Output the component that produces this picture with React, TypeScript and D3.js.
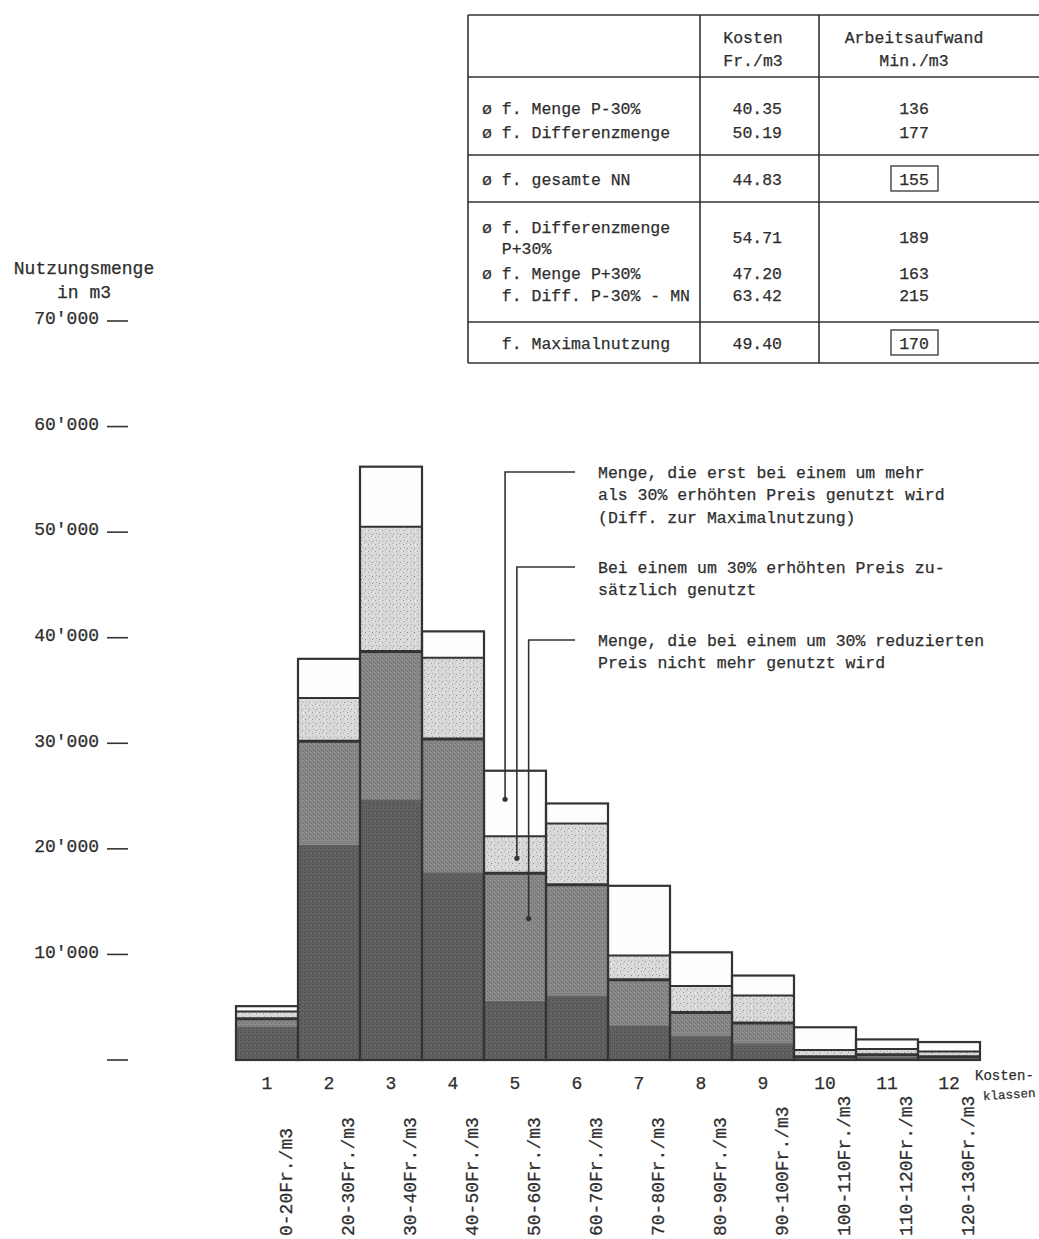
import React from 'react';
import * as d3 from 'd3';

// Kostenklassen und Preisbereiche
const classes = ['1', '2', '3', '4', '5', '6', '7', '8', '9', '10', '11', '12'];
const priceRanges = [
  '0-20Fr./m3', '20-30Fr./m3', '30-40Fr./m3', '40-50Fr./m3', '50-60Fr./m3', '60-70Fr./m3',
  '70-80Fr./m3', '80-90Fr./m3', '90-100Fr./m3', '100-110Fr./m3', '110-120Fr./m3', '120-130Fr./m3'
];

// Nutzungsmengen je Schicht (m3)
const mengeP30Minus = [3100, 20300, 24600, 17700, 5500, 6000, 3200, 2200, 1500, 100, 200, 100];
const diffP30Minus = [800, 9900, 14100, 12700, 12200, 10600, 4400, 2300, 2000, 200, 300, 200];
const diffP30Plus = [700, 4100, 11800, 7700, 3500, 5800, 2300, 2500, 2600, 650, 550, 500];
const diffMaximal = [500, 3700, 5700, 2500, 6200, 1900, 6600, 3200, 1900, 2150, 900, 900];

const yTicks = [0, 10000, 20000, 30000, 40000, 50000, 60000, 70000];

// Tabelle
const tableHeader = [['Kosten', 'Fr./m3'], ['Arbeitsaufwand', 'Min./m3']];
const tableRows = [
  { label: ['ø f. Menge P-30%'], kosten: '40.35', aufwand: '136', y: 108 },
  { label: ['ø f. Differenzmenge'], kosten: '50.19', aufwand: '177', y: 132 },
  { label: ['ø f. gesamte NN'], kosten: '44.83', aufwand: '155', y: 179, boxed: true },
  { label: ['ø f. Differenzmenge', '  P+30%'], kosten: '54.71', aufwand: '189', y: 237 },
  { label: ['ø f. Menge P+30%'], kosten: '47.20', aufwand: '163', y: 273 },
  { label: ['  f. Diff. P-30% - MN'], kosten: '63.42', aufwand: '215', y: 295 },
  { label: ['  f. Maximalnutzung'], kosten: '49.40', aufwand: '170', y: 343, boxed: true }
];
const tableLines = [15, 77, 155, 202, 322, 363];

// Legende: Schicht von Klasse 5, Wert des Punktes
const legend = [
  { lines: ['Menge, die erst bei einem um mehr', 'als 30% erhöhten Preis genutzt wird', '(Diff. zur Maximalnutzung)'], layer: 3, value: 24700, off: 0.34, y: 472 },
  { lines: ['Bei einem um 30% erhöhten Preis zu-', 'sätzlich genutzt'], layer: 2, value: 19100, off: 0.53, y: 567 },
  { lines: ['Menge, die bei einem um 30% reduzierten', 'Preis nicht mehr genutzt wird'], layer: 1, value: 13400, off: 0.72, y: 640 }
];

const W = 1039;
const H = 1239;
const FONT = '"Liberation Mono", "DejaVu Sans Mono", monospace';
const INK = '#2e2e2e';

export default function App() {
  const x = d3.scaleBand<string>().domain(classes).range([236, 980]).padding(0);
  const y = d3.scaleLinear().domain([0, 70000]).range([1060, 321]);

  const rows = classes.map((c, i) => ({
    c,
    a: mengeP30Minus[i],
    b: diffP30Minus[i],
    s: diffP30Plus[i],
    w: diffMaximal[i]
  }));
  const stack = d3.stack<any>().keys(['a', 'b', 's', 'w'])(rows);
  const fills = ['url(#pDark)', 'url(#pMed)', 'url(#pLight)', '#fdfdfd'];
  const bw = x.bandwidth();
  const fmt = (v: number) => d3.format(',')(v).replace(/,/g, "'");

  return (
    <svg width={W} height={H} style={{ position: 'absolute', left: 0, top: 0, background: '#fff' }}
      fontFamily={FONT} fill={INK}>
      <defs>
        <pattern id="pDark" width="4" height="4" patternUnits="userSpaceOnUse">
          <rect width="4" height="4" fill="#606060" />
          <rect x="0" y="0" width="1" height="1" fill="#484848" />
          <rect x="2" y="2" width="1" height="1" fill="#484848" />
          <rect x="3" y="1" width="1" height="1" fill="#747474" />
        </pattern>
        <pattern id="pMed" width="4" height="4" patternUnits="userSpaceOnUse">
          <rect width="4" height="4" fill="#878787" />
          <rect x="1" y="1" width="1" height="1" fill="#6c6c6c" />
          <rect x="3" y="3" width="1" height="1" fill="#6c6c6c" />
          <rect x="2" y="0" width="1" height="1" fill="#9c9c9c" />
        </pattern>
        <pattern id="pLight" width="7" height="7" patternUnits="userSpaceOnUse">
          <rect width="7" height="7" fill="#d9d9d9" />
          <rect x="1" y="2" width="1" height="1" fill="#8a8a8a" />
          <rect x="4" y="5" width="1" height="1" fill="#9c9c9c" />
          <rect x="5" y="1" width="1" height="1" fill="#acacac" />
          <rect x="2" y="5" width="1" height="1" fill="#f4f4f4" />
          <rect x="0" y="4" width="1" height="1" fill="#b4b4b4" />
        </pattern>
      </defs>

      <g stroke={INK} strokeWidth={0.25}>
        {/* Tabelle */}
        <g fontSize={16.5}>
          {tableHeader.map((h, i) => (
            <g key={i}>
              {h.map((t, j) => (
                <text key={j} x={i === 0 ? 753 : 914} y={37 + j * 23} dy="0.35em" textAnchor="middle">{t}</text>
              ))}
            </g>
          ))}
          {tableRows.map((r, i) => (
            <g key={i}>
              {r.label.map((t, j) => (
                <text key={j} x={482} y={r.label.length > 1 ? r.y - 10 + j * 21 : r.y} dy="0.35em"
                  style={{ whiteSpace: 'pre' }}>{t}</text>
              ))}
              <text x={782} y={r.y} dy="0.35em" textAnchor="end">{r.kosten}</text>
              <text x={914} y={r.y} dy="0.35em" textAnchor="middle">{r.aufwand}</text>
            </g>
          ))}
        </g>

        {/* Y-Achse Texte */}
        <g fontSize={18}>
          <text x={84} y={268} dy="0.35em" textAnchor="middle">Nutzungsmenge</text>
          <text x={84} y={292} dy="0.35em" textAnchor="middle">in m3</text>
          {yTicks.filter(t => t > 0).map(t => (
            <text key={t} x={99} y={y(t) - 3} dy="0.35em" textAnchor="end">{fmt(t)}</text>
          ))}
        </g>

        {/* Legende Texte */}
        <g fontSize={16.5}>
          {legend.map((l, i) => (
            <g key={i}>
              {l.lines.map((t, j) => (
                <text key={j} x={598} y={l.y + j * 22.5} dy="0.35em">{t}</text>
              ))}
            </g>
          ))}
        </g>

        {/* X-Achse Texte */}
        <g fontSize={18}>
          {classes.map(c => (
            <text key={c} x={x(c)! + bw / 2} y={1083} dy="0.35em" textAnchor="middle">{c}</text>
          ))}
          <text x={975} y={1075} dy="0.35em" fontSize={14}>Kosten-</text>
          <text x={983} y={1096} dy="0.35em" fontSize={12.5}
            transform="rotate(-4 983 1096)">klassen</text>
          {priceRanges.map((p, i) => {
            const px = x(classes[i])! + bw / 2 + 19;
            return (
              <text key={p} x={px} y={1236} fontSize={18} dy="0.35em"
                transform={`rotate(-90 ${px} 1236)`}>{p}</text>
            );
          })}
        </g>
      </g>

      {/* Tabellenlinien */}
      <g>
        {tableLines.map(ly => (
          <line key={ly} x1={468} x2={W} y1={ly} y2={ly} stroke="#333" strokeWidth={1.6} />
        ))}
        {[468, 700, 819].map(lx => (
          <line key={lx} x1={lx} x2={lx} y1={15} y2={363} stroke="#333" strokeWidth={1.6} />
        ))}
        {tableRows.filter(r => r.boxed).map((r, i) => (
          <rect key={i} x={891} y={r.y - 13} width={47} height={25} fill="none" stroke="#333" strokeWidth={1.3} />
        ))}
      </g>

      {/* Y-Achse Striche */}
      {yTicks.map(t => (
        <line key={t} x1={107} x2={128} y1={y(t)} y2={y(t)} stroke="#333" strokeWidth={1.6} />
      ))}

      {/* Balken */}
      <g>
        {stack.map((layer, li) => (
          <g key={layer.key}>
            {layer.map((d, i) => (
              <rect key={i} x={x(classes[i])!} y={y(d[1])} width={bw} height={y(d[0]) - y(d[1])}
                fill={fills[li]} />
            ))}
          </g>
        ))}
        {/* Schichtgrenzen */}
        {stack.slice(0, 3).map((layer, li) => (
          <g key={'b' + layer.key}>
            {layer.map((d, i) => (
              <line key={i} x1={x(classes[i])!} x2={x(classes[i])! + bw} y1={y(d[1])} y2={y(d[1])}
                stroke={li === 0 ? '#555' : '#333'} strokeWidth={li === 0 ? 1 : li === 1 ? 3 : 2} />
            ))}
          </g>
        ))}
        {stack[3].map((d, i) => (
          <rect key={'o' + i} x={x(classes[i])!} y={y(d[1])} width={bw} height={y(0) - y(d[1])}
            fill="none" stroke="#333" strokeWidth={2.2} />
        ))}
      </g>

      {/* Legende Linien */}
      <g>
        {legend.map((l, i) => {
          const lx = x('5')! + bw * l.off;
          const target = stack[l.layer][4];
          const ty = y(Math.min(l.value, target[1]));
          return (
            <g key={i}>
              <polyline points={`575,${l.y} ${lx},${l.y} ${lx},${ty}`} fill="none" stroke="#333" strokeWidth={1.6} />
              <circle cx={lx} cy={ty} r={2.6} fill="#333" />
            </g>
          );
        })}
      </g>
    </svg>
  );
}
